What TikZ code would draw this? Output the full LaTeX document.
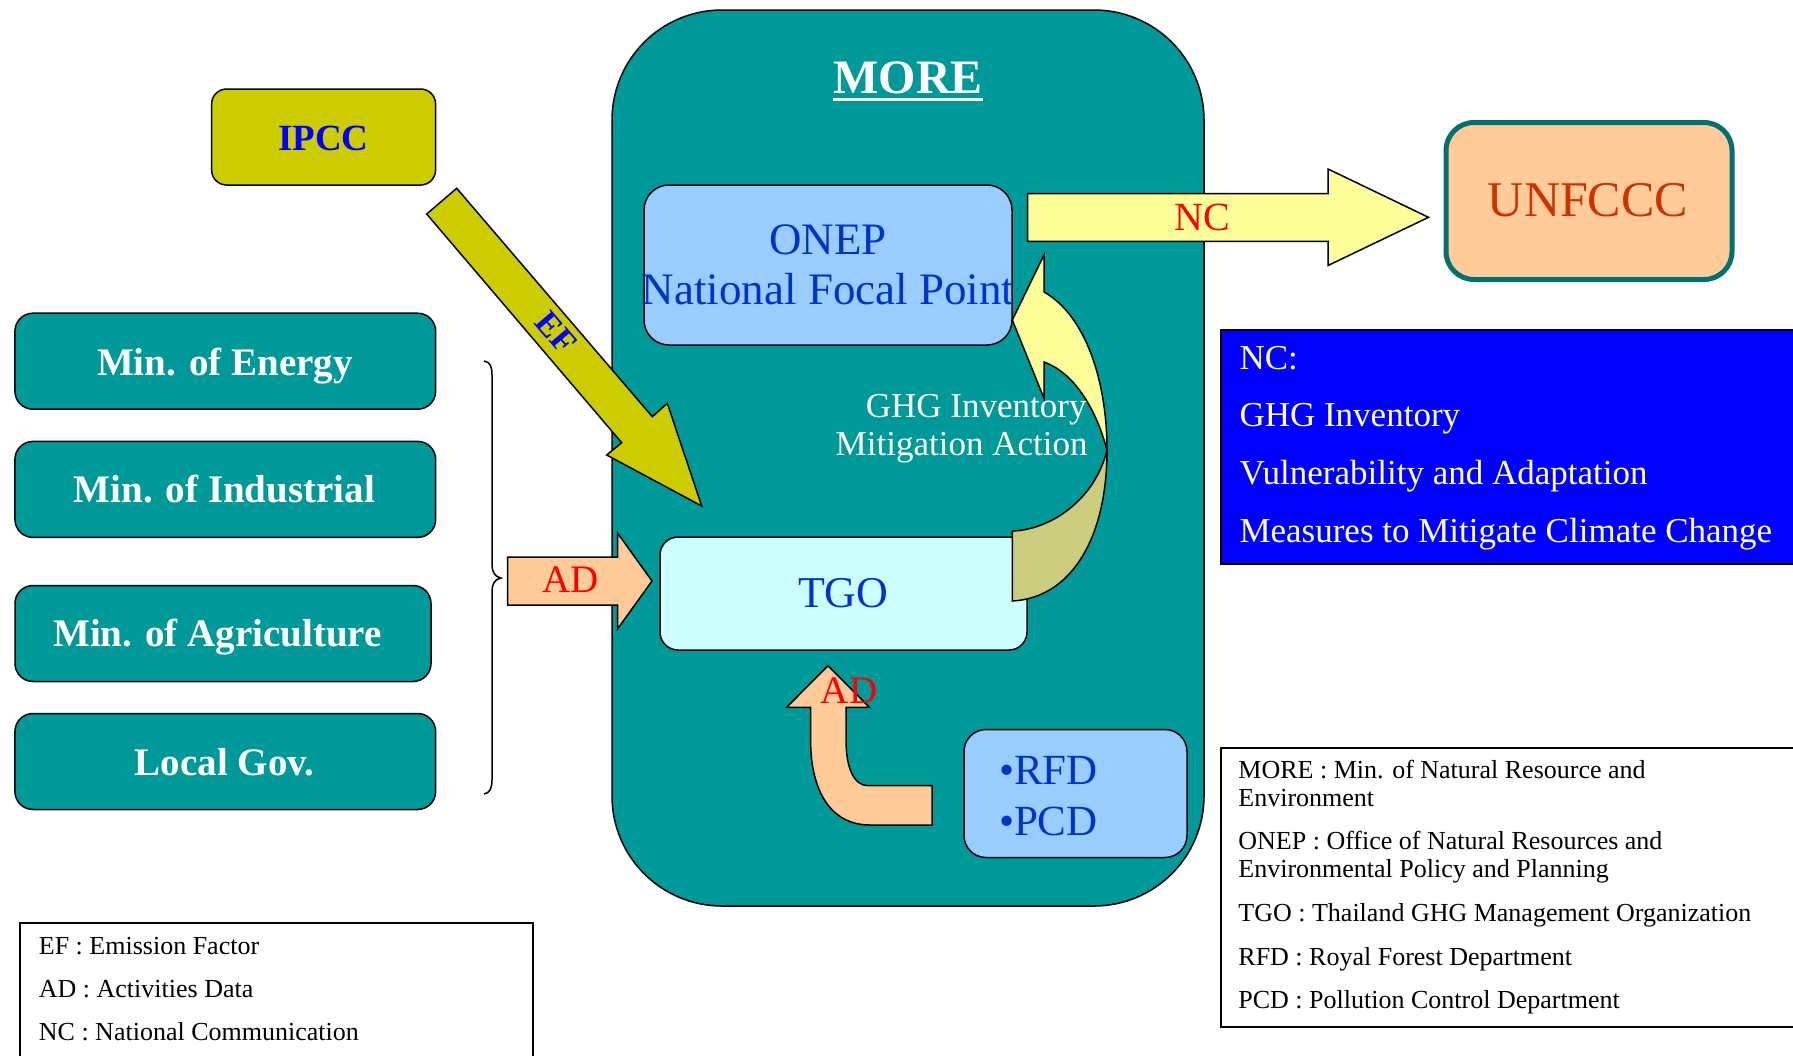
\documentclass[tikz,border=0pt]{standalone}
\usepackage{fontspec}
\setmainfont{Liberation Serif}
\definecolor{tealc}{HTML}{009999}
\definecolor{olivec}{HTML}{CCCC00}
\definecolor{lblue}{HTML}{99CCFF}
\definecolor{lcyan}{HTML}{CCFFFF}
\definecolor{lyellow}{HTML}{FFFF99}
\definecolor{peach}{HTML}{FFCC99}
\definecolor{darkolive}{HTML}{CCCC7F}
\definecolor{txtblue}{HTML}{0033CC}
\definecolor{unred}{HTML}{CC3300}
\definecolor{unborder}{HTML}{007070}
\definecolor{purered}{HTML}{FF0000}
\definecolor{pureblue}{HTML}{0000FF}
\newcommand\fsz[2]{\fontsize{#1}{#2}\selectfont}
\begin{document}
\begin{tikzpicture}[x=1pt,y=-1pt]
\tikzset{
  blk/.style={draw=black, line width=1.5pt},
  boxnode/.style={blk, inner sep=0pt, outer sep=0pt},
  minbox/.style={boxnode, fill=tealc, rounded corners=18pt, minimum width=420.7pt, minimum height=96pt},
  mintext/.style={inner sep=0pt, anchor=base, text=white, font=\fsz{39}{45}\bfseries},
  lbl/.style={inner sep=0pt, outer sep=0pt, anchor=base},
  lgd/.style={inner sep=0pt, outer sep=0pt, anchor=base west, font=\fsz{26}{30}},
  nctext/.style={inner sep=0pt, outer sep=0pt, anchor=base west, text=white, font=\fsz{35}{40}},
  blockarrow/.style={blk, line join=miter},
}
\useasboundingbox (0,0) rectangle (1793,1055);
\clip (0,0) rectangle (1793,1055);
\fill[white] (0,0) rectangle (1793,1055);

% MORE container
\node[boxnode, fill=tealc, rounded corners=110pt, minimum width=592pt, minimum height=896pt] (more) at (908,458) {};
\node[lbl, text=white, font=\fsz{48}{56}\bfseries] (moret) at (908,93.3) {MORE};
\draw[white, line width=3pt] ([yshift=-5.7pt]moret.base west) -- ([yshift=-5.7pt]moret.base east);

% ONEP
\node[boxnode, fill=lblue, rounded corners=25pt, minimum width=368pt, minimum height=160pt] (onep) at (828,265) {};
\node[lbl, text=txtblue, font=\fsz{45}{50}] (onept) at (828,254) {ONEP};
\node[lbl, text=txtblue, font=\fsz{45}{50}] (nfp) at (828,304) {National Focal Point};

% TGO
\node[boxnode, fill=lcyan, rounded corners=18pt, minimum width=367pt, minimum height=113pt] (tgo) at (843.5,593.5) {};
\node[lbl, text=txtblue, font=\fsz{44}{50}] (tgot) at (843.3,607.3) {TGO};

% RFD / PCD
\node[boxnode, fill=lblue, rounded corners=22pt, minimum width=223pt, minimum height=128pt] (rfd) at (1075.5,793.5) {};
\node[lbl, anchor=base west, text=txtblue, font=\fsz{43}{48}] (rfdt) at (999,784) {•RFD};
\node[lbl, anchor=base west, text=txtblue, font=\fsz{43}{48}] (pcdt) at (999,835) {•PCD};

% IPCC
\node[boxnode, fill=olivec, rounded corners=15pt, minimum width=224pt, minimum height=96pt] (ipcc) at (323.6,137) {};
\node[lbl, text=pureblue, font=\fsz{37}{42}\bfseries] (ipcct) at (323.5,150.6) {IPCC};

% Ministries
\node[minbox] (energy) at (225.3,361.2) {};
\node[mintext] (energyt) at (225,375) {Min. of Energy};
\node[minbox] (indus) at (225.3,489.4) {};
\node[mintext] (indust) at (224.3,502) {Min. of Industrial};
\node[minbox, minimum width=416pt] (agri) at (223,633.5) {};
\node[mintext] (agrit) at (217.6,646.5) {Min. of Agriculture};
\node[minbox] (local) at (225.3,761.5) {};
\node[mintext] (localt) at (224.7,775) {Local Gov.};

% brace
\draw[line width=1.5pt] (484,361) .. controls (490,362) and (492,366) .. (492,375) -- (492,565)
  .. controls (492,572) and (495,577) .. (501,578) .. controls (495,579) and (492,584) .. (492,591)
  -- (492,780) .. controls (492,788) and (490,793) .. (484,794);

% UNFCCC
\node[draw=unborder, line width=5pt, fill=peach, rounded corners=28pt, minimum width=286pt, minimum height=157pt, inner sep=0pt] (unfccc) at (1589,201) {};
\node[lbl, text=unred, font=\fsz{50}{56}] (unfccct) at (1588,216.7) {UNFCCC};

% NC box
\node[draw=black, line width=2pt, fill=pureblue, minimum width=600pt, minimum height=233.5pt, inner sep=0pt, anchor=north west] (ncbox) at (1220,329) {};
\node[nctext] (nc1) at (1239.5,369.5) {NC:};
\node[nctext] (nc2) at (1239.5,426) {GHG Inventory};
\node[nctext] (nc3) at (1239.5,484) {Vulnerability and Adaptation};
\node[nctext] (nc4) at (1239.5,542.2) {Measures to Mitigate Climate Change};

% right legend
\node[draw=black, line width=2pt, minimum width=600pt, minimum height=279pt, inner sep=0pt, anchor=north west] (rlegend) at (1220,747) {};
\node[lgd] (r1) at (1238.4,778.3) {MORE : Min. of Natural Resource and};
\node[lgd] (r2) at (1238.4,806) {Environment};
\node[lgd] (r3) at (1238.4,849.5) {ONEP : Office of Natural Resources and};
\node[lgd] (r4) at (1238.4,877.7) {Environmental Policy and Planning};
\node[lgd] (r5) at (1238.4,921.7) {TGO : Thailand GHG Management Organization};
\node[lgd] (r6) at (1238.4,965) {RFD : Royal Forest Department};
\node[lgd] (r7) at (1238.4,1008) {PCD : Pollution Control Department};

% left legend
\node[draw=black, line width=2pt, minimum width=512.6pt, minimum height=180pt, inner sep=0pt, anchor=north west] (llegend) at (19.4,922) {};
\node[lgd] (l1) at (38.9,954.8) {EF : Emission Factor};
\node[lgd] (l2) at (38.9,997) {AD : Activities Data};
\node[lgd] (l3) at (38.9,1040.6) {NC : National Communication};

% EF arrow (IPCC -> TGO)
\filldraw[blockarrow, fill=olivec] (426.7,214) -- (456.7,188.3) -- (652.3,416.7) -- (667.3,403.3)
  -- (701.7,506) -- (606.7,455) -- (621.7,442.7) -- cycle;
\node[text=pureblue, font=\fsz{34}{38}\bfseries, rotate=-49.5, inner sep=0pt] (eft) at (556,333) {EF};

% AD arrow (ministries -> TGO)
\filldraw[blockarrow, fill=peach] (507.5,557) -- (617.5,557) -- (617.5,533) -- (652,581)
  -- (617.5,629) -- (617.5,605) -- (507.5,605) -- cycle;
\node[lbl, text=purered, font=\fsz{39}{44}] (adl) at (570.8,592.7) {AD};

% NC arrow (ONEP -> UNFCCC)
\filldraw[blockarrow, fill=lyellow] (1027.7,193.5) -- (1328,193.5) -- (1328,169) -- (1428.5,217.3)
  -- (1328,265.5) -- (1328,241.3) -- (1027.7,241.3) -- cycle;
\node[lbl, text=purered, font=\fsz{40}{46}] (nct) at (1202,230) {NC};

% curved arrow TGO -> ONEP
\filldraw[blk, fill=lyellow] (1012.3,320) -- (1044,255) -- (1044,292)
  .. controls (1085,315) and (1107,380) .. (1107,450)
  .. controls (1095,405) and (1072,372) .. (1044,362) -- (1044,398.3) -- cycle;
\filldraw[blk, fill=darkolive] (1012.3,531) .. controls (1050,530) and (1095,500) .. (1107,450)
  .. controls (1107,540) and (1070,598) .. (1012.3,601) -- cycle;
\node[lbl, anchor=base east, text=white, font=\fsz{35}{40}] (ghg) at (1086.5,417.5) {GHG Inventory};
\node[lbl, anchor=base east, text=white, font=\fsz{35}{40}] (mit) at (1087.5,455.5) {Mitigation Action};

% AD arrow (RFD -> TGO)
\filldraw[blockarrow, fill=peach] (828,665.7) -- (869.3,707.3) -- (846,707.3) -- (846,740)
  .. controls (846,770) and (855,785.7) .. (868,785.7) -- (932,785.7) -- (932,825) -- (870,825)
  .. controls (830,825) and (810.6,790) .. (810.6,740) -- (810.6,707.3) -- (786.7,707.3) -- cycle;
\node[lbl, text=purered, font=\fsz{39}{44}] (adb) at (849,703.3) {AD};
\end{tikzpicture}
\end{document}
